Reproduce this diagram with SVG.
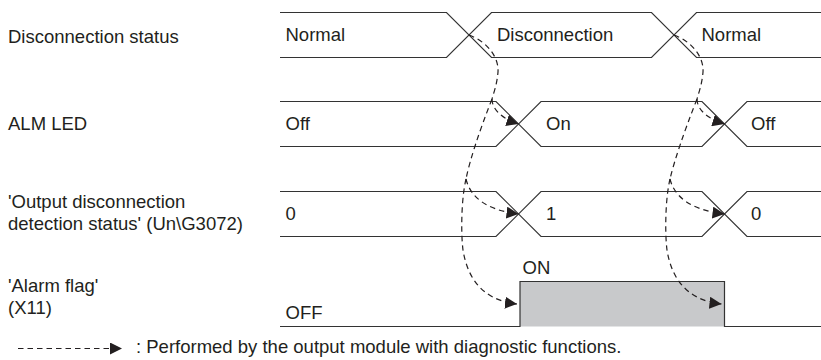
<svg xmlns="http://www.w3.org/2000/svg" width="821" height="360" viewBox="0 0 821 360">
  <style>
    text { font-family: "Liberation Sans", Arial, sans-serif; font-size: 18.5px; fill: #231f20; }
    .sig { fill: none; stroke: #333; stroke-width: 1.2; }
    .dash { fill: none; stroke: #231f20; stroke-width: 1.2; stroke-dasharray: 5.5 4; marker-end: url(#ah); }
    .trunk { fill: none; stroke: #231f20; stroke-width: 1.2; stroke-dasharray: 5.5 4; }
  </style>
  <defs>
    <marker id="ah" markerUnits="userSpaceOnUse" markerWidth="12" markerHeight="12" refX="12" refY="6" orient="auto">
      <path d="M0,0 L12,6 L0,12 z" fill="#231f20"/>
    </marker>
  </defs>
  <rect width="821" height="360" fill="#fff"/>

  <g id="labels">
    <text x="8" y="43">Disconnection status</text>
    <text x="8" y="130">ALM LED</text>
    <text x="8" y="208">'Output disconnection</text>
    <text x="8" y="230">detection status' (Un\G3072)</text>
    <text x="8" y="292">'Alarm flag'</text>
    <text x="8" y="314">(X11)</text>
  </g>

  <g id="disconnection-status">
    <path class="sig" d="M280,12.5 H446.5 L491.5,57.5 H651.5 L696.5,12.5 H821"/>
    <path class="sig" d="M280,57.5 H446.5 L491.5,12.5 H651.5 L696.5,57.5 H821"/>
    <text x="285.5" y="40.5">Normal</text>
    <text x="497" y="40.5">Disconnection</text>
    <text x="701.5" y="40.5">Normal</text>
  </g>

  <g id="alm-led">
    <path class="sig" d="M280,101.5 H496 L541,146.5 H702 L747,101.5 H821"/>
    <path class="sig" d="M280,146.5 H496 L541,101.5 H702 L747,146.5 H821"/>
    <text x="285.5" y="130">Off</text>
    <text x="546" y="130">On</text>
    <text x="751" y="130">Off</text>
  </g>

  <g id="output-disconnection-detection-status">
    <path class="sig" d="M280,191.5 H496 L541,236.5 H702 L747,191.5 H821"/>
    <path class="sig" d="M280,236.5 H496 L541,191.5 H702 L747,236.5 H821"/>
    <text x="285.5" y="220">0</text>
    <text x="546" y="220">1</text>
    <text x="751" y="220">0</text>
  </g>

  <g id="alarm-flag">
    <rect x="520" y="281.5" width="204.5" height="45" fill="#c8c9cb"/>
    <path class="sig" d="M280,326.5 H520 V281.5 H724.5 V326.5 H821"/>
    <text x="522.5" y="273.5">ON</text>
    <text x="285.5" y="319">OFF</text>
  </g>

  <g id="connectors">
    <path class="trunk" d="M469,35 C488,42 499,58 498,72 C497,84 494,92 492,99"/>
    <path class="dash" d="M492,99 C492,108 500,118 518.5,124"/>
    <path class="trunk" d="M492,99 Q472,150 466,179"/>
    <path class="dash" d="M466,179 C470,196 485,210 518.5,214"/>
    <path class="dash" d="M466,179 C461,200 461,235 463,250 C467,275 480,300 517,304"/>

    <path class="trunk" d="M674,35 C693,42 704,58 703,72 C702,84 699,92 697,99"/>
    <path class="dash" d="M697,99 C697,108 705,118 724.5,124"/>
    <path class="trunk" d="M697,99 Q677,150 670,179"/>
    <path class="dash" d="M670,179 C674,196 690,210 724.5,214"/>
    <path class="dash" d="M670,179 C665,200 665,235 667,250 C671,275 684,300 721.5,304"/>
  </g>

  <g id="legend">
    <path class="dash" d="M18,348.5 H122"/>
    <text x="136" y="353">: Performed by the output module with diagnostic functions.</text>
  </g>
</svg>
